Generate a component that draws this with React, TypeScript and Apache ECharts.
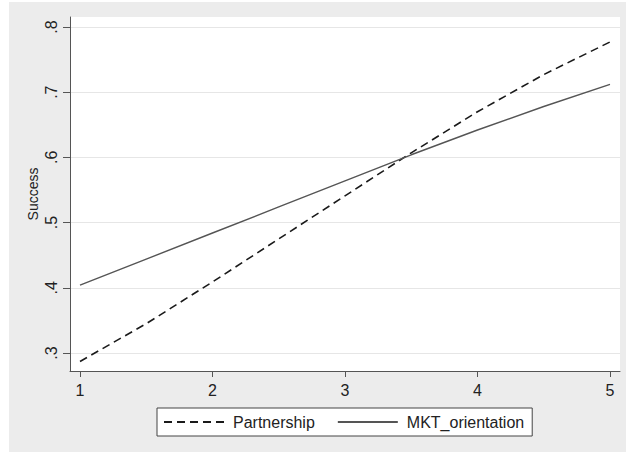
import React, { useEffect, useRef } from "react";
import * as echarts from "echarts";

const xValues = [1, 1.5, 2, 2.5, 3, 3.5, 4, 4.5, 5];
const partnership = [0.287, 0.345, 0.409, 0.475, 0.541, 0.607, 0.67, 0.727, 0.777];
const mktOrientation = [0.404, 0.444, 0.484, 0.524, 0.564, 0.604, 0.642, 0.678, 0.712];
const xTicks = [1, 2, 3, 4, 5];
const yTicks = [0.3, 0.4, 0.5, 0.6, 0.7, 0.8];
const yTickLabels = [".3", ".4", ".5", ".6", ".7", ".8"];
const seriesNames = ["Partnership", "MKT_orientation"];
const yTitle = "Success";

const FONT = "'Liberation Sans', Arial, sans-serif";

export default function App() {
  const ref = useRef<HTMLDivElement>(null);
  useEffect(() => {
    if (!ref.current) return;
    const chart = echarts.init(ref.current, null, { renderer: "svg" });
    chart.setOption({
      animation: false,
      backgroundColor: "transparent",
      textStyle: { fontFamily: FONT },
      grid: {
        left: 61,
        top: 15,
        right: 6,
        bottom: 81,
        show: true,
        backgroundColor: "#ffffff",
        borderWidth: 0,
      },
      legend: {
        left: 148,
        top: 406,
        backgroundColor: "#ffffff",
        borderColor: "#444444",
        borderWidth: 1,
        borderRadius: 0,
        padding: [6, 8, 6, 6],
        itemWidth: 60,
        itemHeight: 10,
        itemGap: 22,
        itemStyle: { opacity: 0 },
        textStyle: { fontSize: 16, color: "#222", fontFamily: FONT, padding: [0, 0, 0, 4] },
        data: seriesNames,
      },
      xAxis: {
        type: "value",
        min: 0.9245,
        max: 5.0755,
        axisLine: { show: true, onZero: false, lineStyle: { color: "#555", width: 1 } },
        axisTick: { show: true, length: 6, customValues: xTicks, lineStyle: { color: "#555" } },
        axisLabel: {
          customValues: xTicks,
          fontSize: 16,
          color: "#222",
          margin: 11,
          fontFamily: FONT,
          formatter: (v: number) => String(v),
        },
        splitLine: { show: false },
      },
      yAxis: {
        type: "value",
        min: 0.2724,
        max: 0.8153,
        name: yTitle,
        nameLocation: "middle",
        nameGap: 30,
        nameMoveOverlap: false,
        nameTextStyle: { fontSize: 14, color: "#222", fontFamily: FONT },
        axisLine: { show: true, onZero: false, lineStyle: { color: "#555", width: 1 } },
        axisTick: { show: true, length: 7, customValues: yTicks, lineStyle: { color: "#555" } },
        axisLabel: {
          customValues: yTicks,
          rotate: 90,
          fontSize: 16,
          color: "#222",
          margin: 11,
          fontFamily: FONT,
          formatter: (v: number) => {
            const i = yTicks.findIndex((t) => Math.abs(t - v) < 1e-6);
            return i >= 0 ? yTickLabels[i] : "";
          },
        },
        splitLine: { show: true, lineStyle: { color: "#e6e6e6", width: 1 } },
      },
      series: [
        {
          name: seriesNames[0],
          type: "line",
          data: xValues.map((x, i) => [x, partnership[i]]),
          symbol: "none",
          z: 3,
          lineStyle: { color: "#1a1a1a", width: 1.6, type: [8, 5] },
          itemStyle: { color: "#1a1a1a" },
        },
        {
          name: seriesNames[1],
          type: "line",
          data: xValues.map((x, i) => [x, mktOrientation[i]]),
          symbol: "none",
          z: 3,
          lineStyle: { color: "#555555", width: 1.4, type: "solid" },
          itemStyle: { color: "#555555" },
        },
      ],
    });
    return () => chart.dispose();
  }, []);
  return (
    <div style={{ position: "absolute", left: 0, top: 0, width: 626, height: 452, background: "#ffffff" }}>
      <div
        ref={ref}
        style={{ position: "absolute", left: 9, top: 2, width: 617, height: 450, background: "#ececec" }}
      />
    </div>
  );
}
